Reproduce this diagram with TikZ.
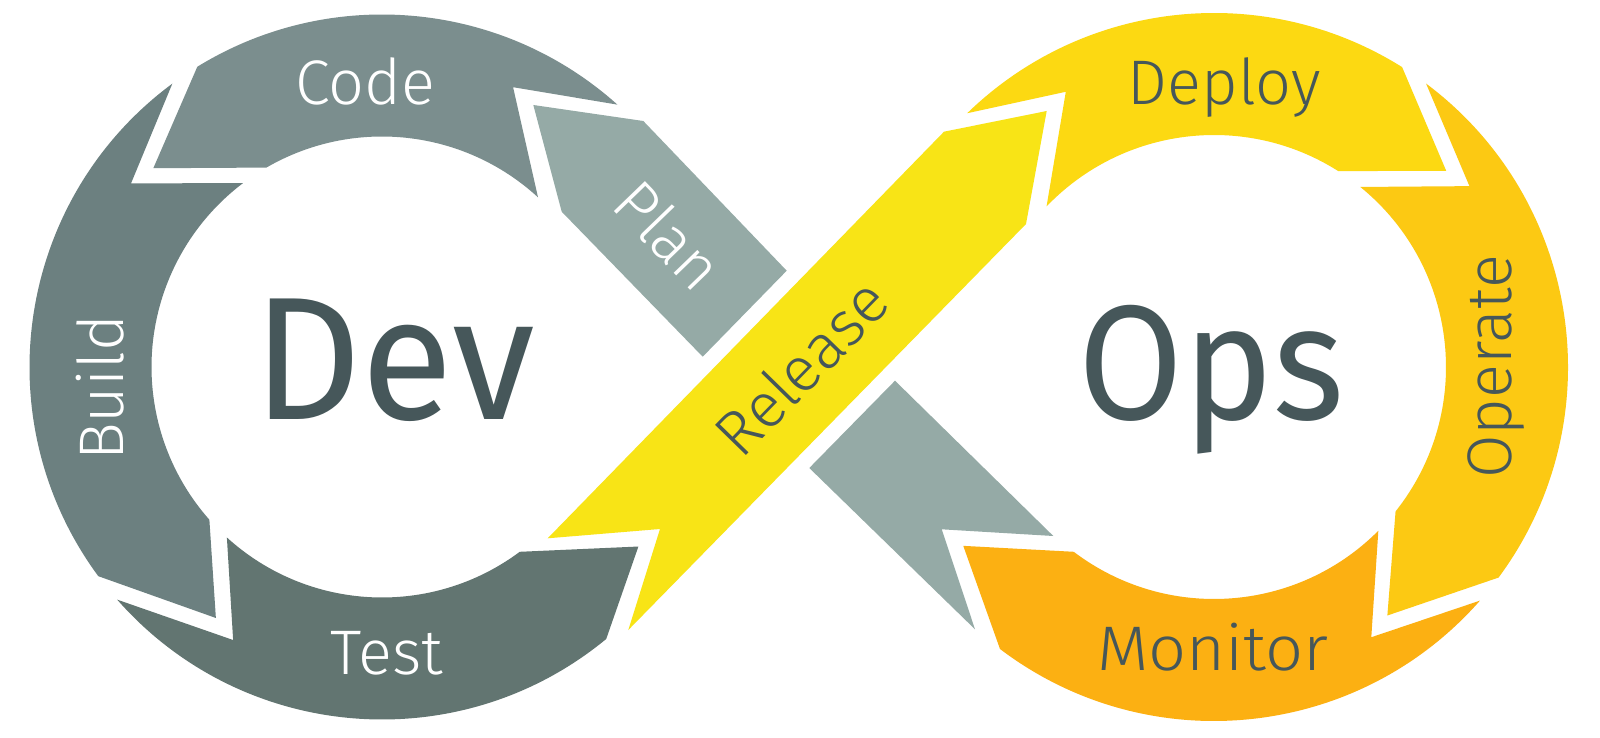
\documentclass[tikz,border=0pt]{standalone}
\usepackage{fontspec}
\usepackage{graphicx}
\setmainfont{Fira Sans}
\newfontfamily\lightfont{Fira Sans Light}
\definecolor{codeC}{HTML}{7B8E8E}
\definecolor{buildC}{HTML}{6C8080}
\definecolor{testC}{HTML}{627571}
\definecolor{planC}{HTML}{95AAA6}
\definecolor{releaseC}{HTML}{F8E416}
\definecolor{deployC}{HTML}{FCD912}
\definecolor{operateC}{HTML}{FCC913}
\definecolor{monitorC}{HTML}{FCB012}
\definecolor{inkC}{HTML}{46575A}
\tikzset{
  biglabel/.style={inner sep=0pt, text=inkC, font=\fontsize{175}{180}\selectfont},
  steplabel/.style={inner sep=0pt, font=\lightfont\fontsize{63}{68}\selectfont},
  onGray/.style={steplabel, text=white},
  onYellow/.style={steplabel, text=inkC},
}
\begin{document}
\begin{tikzpicture}[x=1pt,y=1pt]
\useasboundingbox (0,0) rectangle (1600,737);
\fill[white] (0,0) rectangle (1600,737);

% ring centres
\coordinate (D) at (382,370);
\coordinate (O) at (1214,370);

% ---- Dev ring (counter-clockwise flow) ----
\def\Ro{352.5pt}\def\Ri{230.5pt}
\fill[codeC] ([shift={(48.1:\Ro)}]D) arc[start angle=48.1, end angle=121.6, radius=\Ro]
  -- ([shift={(139:303pt)}]D) -- ([shift={(120.1:\Ri)}]D)
  arc[start angle=120.1, end angle=47.4, radius=\Ri]
  -- ([shift={(64.9:309pt)}]D) -- cycle;
\fill[buildC] ([shift={(126.5:\Ro)}]D) arc[start angle=126.5, end angle=216.4, radius=\Ro]
  -- ([shift={(236.5:301pt)}]D) -- ([shift={(221.5:\Ri)}]D)
  arc[start angle=221.5, end angle=127.1, radius=\Ri]
  -- ([shift={(143.8:311pt)}]D) -- cycle;
\fill[testC] ([shift={(221.3:\Ro)}]D) arc[start angle=221.3, end angle=309.5, radius=\Ro]
  -- ([shift={(325:313pt)}]D) -- ([shift={(306.7:\Ri)}]D)
  arc[start angle=306.7, end angle=227.7, radius=\Ri]
  -- ([shift={(241.4:311pt)}]D) -- cycle;

% ---- Ops ring (clockwise flow) ----
\def\Qo{354pt}\def\Qi{232pt}
\fill[deployC] ([shift={(134.2:\Qo)}]O) arc[start angle=134.2, end angle=57.9, radius=\Qo]
  -- ([shift={(40.2:304pt)}]O) -- ([shift={(57.6:\Qi)}]O)
  arc[start angle=57.6, end angle=136.2, radius=\Qi]
  -- ([shift={(118.3:312.6pt)}]O) -- cycle;
\fill[operateC] ([shift={(53.2:\Qo)}]O) arc[start angle=53.2, end angle=-36.5, radius=\Qo]
  -- ([shift={(-55.1:303pt)}]O) -- ([shift={(-38.5:\Qi)}]O)
  arc[start angle=-38.5, end angle=50.9, radius=\Qi]
  -- ([shift={(35.3:313pt)}]O) -- cycle;
\fill[monitorC] ([shift={(-41.3:\Qo)}]O) arc[start angle=-41.3, end angle=-127.2, radius=\Qo]
  -- ([shift={(-144.5:308pt)}]O) -- ([shift={(-127.2:\Qi)}]O)
  arc[start angle=-127.2, end angle=-44.9, radius=\Qi]
  -- ([shift={(-59.8:312.7pt)}]O) -- cycle;

% ---- Plan band, split where Release crosses over it ----
\fill[planC] (895,356.3) -- (1053.3,201) -- (941.7,207.7) -- (975,107.7) -- (809.3,269) -- cycle;
\fill[planC] (533.3,632) -- (643.3,616) -- (786.7,466.3) -- (702.7,380.3) -- (561.7,525.3) -- cycle;

% ---- Release band ----
\fill[releaseC] (547.7,198.7) -- (660,208) -- (628.3,107) -- (1026,513) -- (1046.7,626) -- (944,605.3) -- cycle;

% ---- labels ----
\node[biglabel, anchor=base] (dev) at (394.5,317) {\scalebox{0.96}[1]{Dev}};
\node[biglabel, anchor=base, font=\fontsize{163}{168}\selectfont] (ops) at (1211.5,317) {\scalebox{0.93}[1]{Ops}};

\node[onGray, anchor=base] (code) at (365,632) {Code};
\node[onGray, anchor=base, rotate=90] (build) at (123,349) {Build};
\node[onGray, anchor=base] (test) at (387,62.5) {Test};
\node[onGray, rotate=-46] (plan) at (669,502) {Plan};

\node[onYellow, rotate=45.7] (release) at (801,370) {Release};
\node[onYellow, anchor=base] (deploy) at (1224.5,632) {Deploy};
\node[onYellow, anchor=base, rotate=90] (operate) at (1511,370) {Operate};
\node[onYellow, anchor=base] (monitor) at (1213,67) {\scalebox{1.06}[1]{Monitor}};
\end{tikzpicture}
\end{document}
